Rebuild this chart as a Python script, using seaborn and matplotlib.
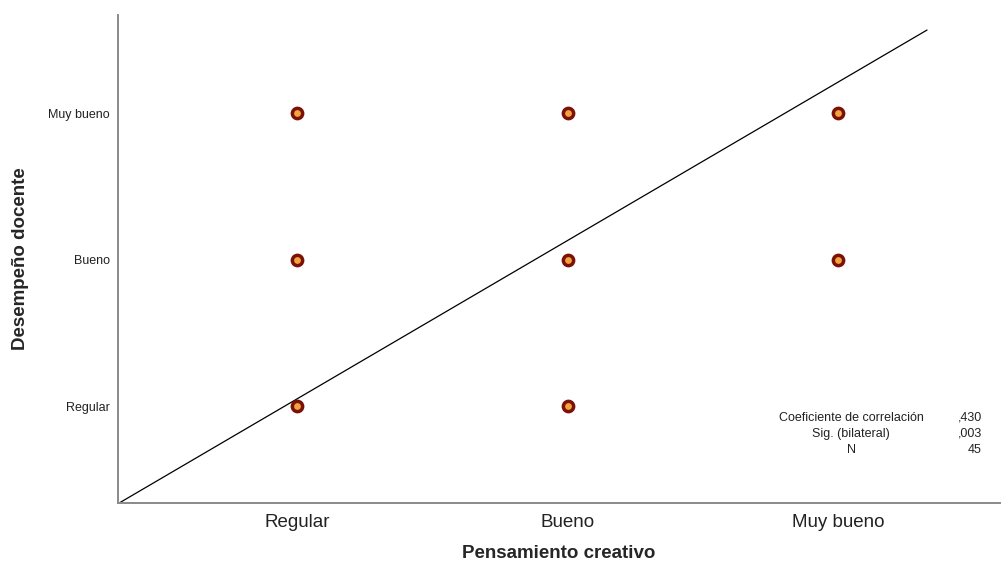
import pandas as pd
import matplotlib.pyplot as plt
import seaborn as sns

# -------------------------------
# Data
# -------------------------------
levels = ["Regular", "Bueno", "Muy bueno"]
pensamiento = [1, 2, 3, 1, 2, 3, 1, 2]   # Pensamiento creativo (1=Regular ... 3=Muy bueno)
desempeno = [3, 3, 3, 2, 2, 2, 1, 1]     # Desempeño docente

# fitted line
fit_intercept = -0.03
fit_slope = 1.08
fit_x_range = [0.337, 3.33]

stat_labels = ["Coeficiente de correlación", "Sig. (bilateral)", "N"]
stat_values = [",430", ",003", "45"]

df = pd.DataFrame({"pensamiento": pensamiento, "desempeno": desempeno})

# -------------------------------
# Plot
# -------------------------------
sns.set_style("white")
plt.rcParams["font.family"] = ["Liberation Sans", "DejaVu Sans"]

fig = plt.figure(figsize=(10.01, 5.71), dpi=100)
ax = fig.add_axes([0.118, 0.119, 0.881, 0.855])

fit_y = [fit_intercept + fit_slope * v for v in fit_x_range]
ax.plot(fit_x_range, fit_y, color="black", linewidth=0.9, zorder=1)

sns.scatterplot(data=df, x="pensamiento", y="desempeno", ax=ax,
                s=55, color="#F2A33A", edgecolor="#7A1209", linewidth=2.5,
                zorder=3, legend=False)

ax.set_xlim(0.337, 3.60)
ax.set_ylim(0.338, 3.67)
ax.set_xticks([1, 2, 3])
ax.set_xticklabels(levels, fontsize=13.5, color="#222222")
ax.set_yticks([1, 2, 3])
ax.set_yticklabels(levels, fontsize=9, color="#222222")
ax.tick_params(length=0, pad=6)
ax.tick_params(axis="x", pad=8)

ax.set_xlabel("Pensamiento creativo", fontsize=13.5, fontweight="bold", labelpad=10)
ax.set_ylabel("Desempeño docente", fontsize=13.5, fontweight="bold", labelpad=14)

sns.despine(ax=ax)
for side in ["left", "bottom"]:
    ax.spines[side].set_color("#8a8a8a")
    ax.spines[side].set_linewidth(1.4)

# correlation box
for i, (lab, val) in enumerate(zip(stat_labels, stat_values)):
    y = 1 - (418 + 16 * i) / 571
    fig.text(851 / 1001, y, lab, ha="center", va="center", fontsize=9, color="#222222")
    fig.text(982 / 1001, y, val, ha="right", va="center", fontsize=9, color="#222222")

plt.savefig("out.png", dpi=100)
